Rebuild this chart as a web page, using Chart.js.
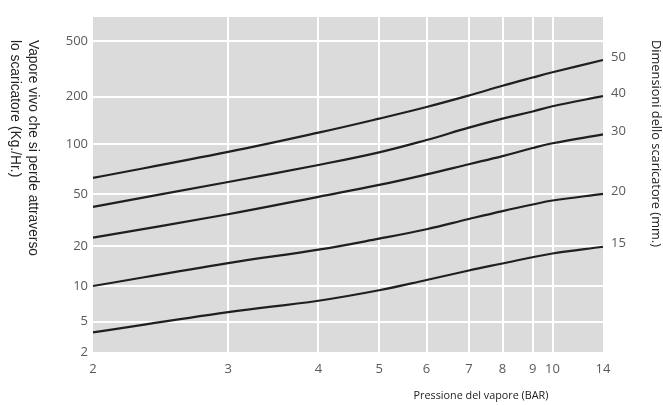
<!DOCTYPE html>
<html>
<head>
<meta charset="utf-8">
<script src="https://cdn.jsdelivr.net/npm/chart.js@4/dist/chart.umd.min.js"></script>
<style>
  html, body { margin: 0; padding: 0; background: #fff; }
  #wrap { width: 663px; height: 405px; }
</style>
</head>
<body>
<div id="wrap"><canvas id="chart-0" width="663" height="405"></canvas></div>
<script>
// data
var pressure = [2, 3, 4, 5, 6, 7, 8, 9, 10, 14];          // BAR
var sizeLabels = ["15", "20", "30", "40", "50"];            // mm
var flow15 = [3.6, 6.0, 7.5, 9.2, 11.1, 13.1, 14.8, 16.5, 17.6, 19.8];
var flow20 = [10, 14.9, 18.8, 22.8, 26.9, 32.2, 37.0, 41.5, 44.5, 50];
var flow30 = [23.2, 35.0, 47.5, 56.6, 65.5, 75.5, 84.5, 94.5, 101, 115];
var flow40 = [39.8, 59.0, 74.7, 89, 106, 127, 145, 161, 174, 202];
var flow50 = [62.4, 89.5, 118, 145, 172, 204, 240, 275, 300, 368];
var xTicks = [2, 3, 4, 5, 6, 7, 8, 9, 10, 14];
var yTicks = [2, 5, 10, 20, 50, 100, 200, 500];

// the printed axes are only roughly logarithmic, so this scale follows
// log steps between the printed grid lines
class AnchorScale extends Chart.Scale {
    determineDataLimits() {
        var a = this.options.anchors;
        this.min = a[0][0];
        this.max = a[a.length - 1][0];
    }
    buildTicks() {
        return this.options.tickValues.map(function (v) { return { value: v }; });
    }
    getLabelForValue(v) { return String(v); }
    frac(v) {
        var a = this.options.anchors;
        for (var i = 1; i < a.length; i++) {
            if (v <= a[i][0] || i === a.length - 1) {
                var t = Math.log(v / a[i - 1][0]) / Math.log(a[i][0] / a[i - 1][0]);
                return a[i - 1][1] + t * (a[i][1] - a[i - 1][1]);
            }
        }
        return 0;
    }
    getPixelForValue(v) { return this.getPixelForDecimal(this.frac(v)); }
    getPixelForTick(i) { return this.getPixelForValue(this.ticks[i].value); }
    getValueForPixel(p) {
        var d = this.getDecimalForPixel(p), a = this.options.anchors;
        for (var i = 1; i < a.length; i++) {
            if (d <= a[i][1] || i === a.length - 1) {
                var t = (d - a[i - 1][1]) / (a[i][1] - a[i - 1][1]);
                return a[i - 1][0] * Math.pow(a[i][0] / a[i - 1][0], t);
            }
        }
        return this.min;
    }
}
AnchorScale.id = "anchor";
AnchorScale.defaults = {};
Chart.register(AnchorScale);

function series(values) {
    return pressure.map(function (p, i) { return { x: p, y: values[i] }; });
}

var flows = [flow15, flow20, flow30, flow40, flow50];
var datasets = flows.map(function (f, i) {
    return {
        label: sizeLabels[i],
        data: series(f),
        borderColor: "#1f1f1f",
        borderWidth: 2.2,
        pointRadius: 0,
        fill: false,
        tension: 0.4
    };
});

var tickFont = { family: "Open Sans", size: 13 };
var tickColor = "#5a5a5a";

function edgeGrid(ctx) {
    var n = ctx.scale.ticks.length;
    if (ctx.index === 0) return "rgba(0,0,0,0)";
    if (ctx.scale.isHorizontal() && ctx.index === n - 1) return "rgba(0,0,0,0)";
    return "#ffffff";
}

var decorPlugin = {
    id: "decor",
    beforeDraw: function (chart) {
        var c = chart.ctx, a = chart.chartArea;
        c.save();
        c.fillStyle = "#dbdbdb";
        c.fillRect(a.left, a.top, a.right - a.left, a.bottom - a.top);
        c.restore();
    },
    afterDraw: function (chart) {
        var c = chart.ctx;
        c.save();
        // labels at the end of each curve
        c.font = "13px 'Open Sans'";
        c.fillStyle = tickColor;
        c.textAlign = "left";
        c.textBaseline = "middle";
        chart.data.datasets.forEach(function (ds, i) {
            var pts = chart.getDatasetMeta(i).data;
            var last = pts[pts.length - 1];
            c.fillText(ds.label, last.x + 8, last.y - 3);
        });

        // left title, turned clockwise
        c.fillStyle = "#222";
        c.font = "13.8px 'Liberation Sans'";
        c.save();
        c.translate(33, 40);
        c.rotate(Math.PI / 2);
        c.fillText("Vapore vivo che si perde attraverso", 0, 0);
        c.fillText("lo scaricatore (Kg./Hr.)", 0, 18);
        c.restore();

        // right title
        c.font = "12.8px 'Open Sans'";
        c.save();
        c.translate(656, 40);
        c.rotate(Math.PI / 2);
        c.fillText("Dimensioni dello scaricatore (mm.)", 0, 0);
        c.restore();

        // x title
        c.font = "10.8px 'Open Sans'";
        c.textAlign = "center";
        c.fillText("Pressione del vapore (BAR)", 481, 396);
        c.restore();
    }
};

var ctx0 = document.getElementById("chart-0");
var myChart = new Chart(ctx0, {
    type: "line",
    data: { datasets: datasets },
    options: {
        responsive: false,
        animation: false,
        events: [],
        layout: { padding: { left: 0, right: 60, top: 17, bottom: 0 } },
        plugins: { legend: { display: false }, tooltip: { enabled: false } },
        scales: {
            x: {
                type: "anchor",
                tickValues: xTicks,
                anchors: [[2, 0], [3, 0.265], [4, 0.442], [5, 0.561], [6, 0.654],
                          [7, 0.737], [8, 0.803], [9, 0.862], [10, 0.901], [14, 1]],
                border: { display: false },
                grid: { color: edgeGrid, lineWidth: 2, drawTicks: false },
                ticks: { font: tickFont, color: tickColor, padding: 9, autoSkip: false, maxRotation: 0 },
                afterFit: function (s) { s.height = 53; }
            },
            y: {
                type: "anchor",
                tickValues: yTicks,
                anchors: [[2, 0], [5, 0.091], [10, 0.197], [20, 0.316], [50, 0.472],
                          [100, 0.621], [200, 0.762], [500, 0.927], [750, 1]],
                border: { display: false },
                grid: { color: edgeGrid, lineWidth: 2, drawTicks: false },
                ticks: { font: tickFont, color: tickColor, padding: 5, autoSkip: false },
                afterFit: function (s) { s.width = 93; }
            }
        }
    },
    plugins: [decorPlugin]
});
</script>
</body>
</html>
